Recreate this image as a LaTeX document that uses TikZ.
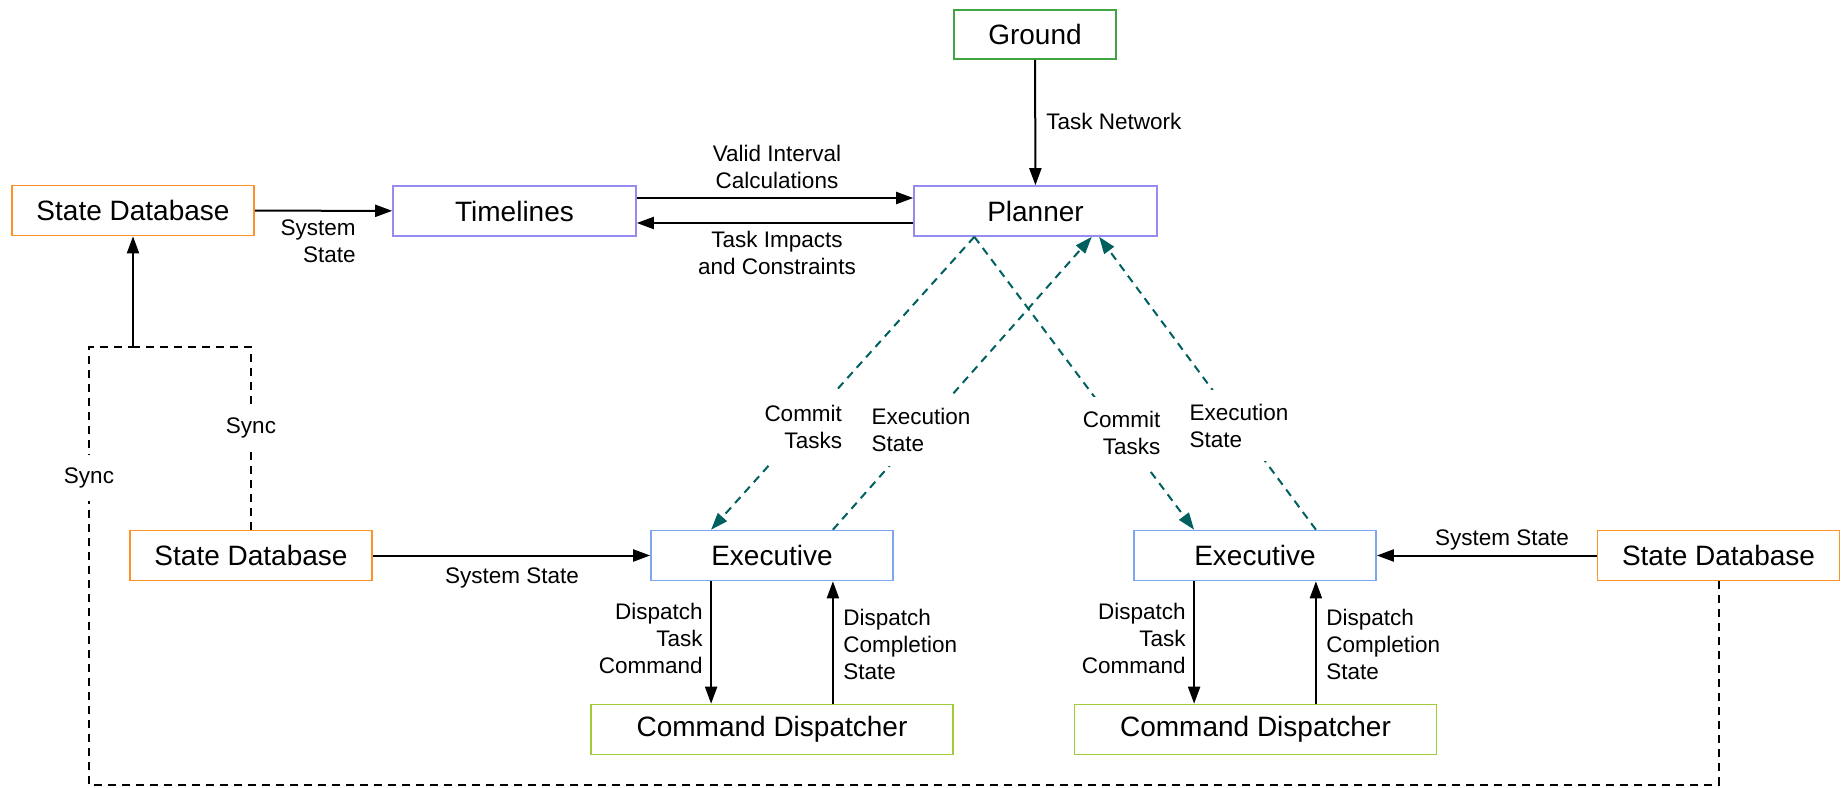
\documentclass[tikz,border=0pt]{standalone}
\usepackage{fontspec}
\setmainfont{Liberation Sans}
\usetikzlibrary{arrows.meta,calc}

\definecolor{groundc}{RGB}{64,164,64}
\definecolor{plannerc}{RGB}{150,140,240}
\definecolor{execc}{RGB}{126,166,240}
\definecolor{dispc}{RGB}{160,204,58}
\definecolor{dbc}{RGB}{255,145,40}
\definecolor{tealc}{RGB}{0,96,96}

\begin{document}
\begin{tikzpicture}[x=0.5pt,y=-0.5pt,
  box/.style={draw, line width=0.8pt, minimum width=121pt, minimum height=25pt,
    inner sep=0pt, font=\fontsize{14}{16}\selectfont},
  lbl/.style={font=\fontsize{11.25}{13.5}\selectfont, inner sep=1pt, text=black},
  arr/.style={line width=1pt, -{Triangle[length=8.5pt,width=6pt]}},
  sync/.style={line width=1pt, dash pattern=on 4pt off 3pt},
  flow/.style={tealc, line width=1pt, dash pattern=on 4pt off 3pt,
    -{Triangle[length=8.5pt,width=6pt]}},
  gap/.style={fill=white, inner xsep=3pt, inner ysep=7pt}
]
\useasboundingbox (0,0) rectangle (1847,787);

% boxes
\node[box, draw=groundc, minimum width=81pt, minimum height=24.5pt] (ground) at (1035,34.5) {Ground};
\node[box, draw=plannerc, minimum width=121.5pt] (planner) at (1035.5,211) {Planner};
\node[box, draw=plannerc, minimum width=121.5pt] (timelines) at (514.5,211) {Timelines};
\node[box, draw=dbc] (sd1) at (133,210.5) {State Database};
\node[box, draw=dbc] (sd2) at (251,555.5) {State Database};
\node[box, draw=dbc] (sd3) at (1718.5,555.5) {State Database};
\node[box, draw=execc] (exec1) at (772,555.5) {Executive};
\node[box, draw=execc] (exec2) at (1255,555.5) {Executive};
\node[box, draw=dispc, minimum width=181pt] (cd1) at (772,729.5) {Command Dispatcher};
\node[box, draw=dispc, minimum width=181pt] (cd2) at (1255.5,729.5) {Command Dispatcher};

% planning level
\draw[arr] (ground) -- (planner);
\node[lbl, anchor=west] (lnet) at (1044,121) {Task Network};
\draw[arr] (sd1) -- (timelines);
\node[lbl, anchor=east, align=right] (lsys1) at (358,241) {System\\State};
\draw[arr] ($(timelines.east)+(0,-13)$) -- ($(planner.west)+(0,-13)$);
\node[lbl, align=center] (lvalid) at (777,167) {Valid Interval\\Calculations};
\draw[arr] ($(planner.west)+(0,12)$) -- ($(timelines.east)+(0,12)$);
\node[lbl, align=center] (limp) at (777,253) {Task Impacts\\and Constraints};

% planner <-> executives
\draw[flow] ($(planner.south west)!0.25!(planner.south east)$) --
  node[pos=0.65, lbl, gap, align=right] (lc1) {Commit\\Tasks}
  ($(exec1.north west)!0.25!(exec1.north east)$);
\draw[flow] ($(exec1.north west)!0.75!(exec1.north east)$) --
  node[pos=0.34, lbl, gap, align=left] (le1) {Execution\\State}
  ($(planner.south west)!0.73!(planner.south east)$);
\draw[flow] ($(planner.south west)!0.25!(planner.south east)$) --
  node[pos=0.67, lbl, gap, align=right] (lc2) {Commit\\Tasks}
  ($(exec2.north west)!0.25!(exec2.north east)$);
\draw[flow] ($(exec2.north west)!0.75!(exec2.north east)$) --
  node[pos=0.355, lbl, gap, align=left] (le2) {Execution\\State}
  ($(planner.south west)!0.76!(planner.south east)$);

% state databases feeding executives
\draw[arr] (sd2) -- (exec1);
\node[lbl] (lsys2) at (512,578) {System State};
\draw[arr] (sd3) -- (exec2);
\node[lbl] (lsys3) at (1502,540) {System State};

% executive <-> dispatcher
\coordinate (e1d) at ($(exec1.south west)!0.25!(exec1.south east)$);
\coordinate (e1u) at ($(exec1.south west)!0.75!(exec1.south east)$);
\coordinate (e2d) at ($(exec2.south west)!0.25!(exec2.south east)$);
\coordinate (e2u) at ($(exec2.south west)!0.75!(exec2.south east)$);
\draw[arr] (e1d) -- (e1d |- cd1.north);
\draw[arr] (e1u |- cd1.north) -- (e1u);
\draw[arr] (e2d) -- (e2d |- cd2.north);
\draw[arr] (e2u |- cd2.north) -- (e2u);
\node[lbl, anchor=east, align=right] (ld1) at (705,638) {Dispatch\\Task\\Command};
\node[lbl, anchor=west, align=left] (lr1) at (841,644) {Dispatch\\Completion\\State};
\node[lbl, anchor=east, align=right] (ld2) at (1188,638) {Dispatch\\Task\\Command};
\node[lbl, anchor=west, align=left] (lr2) at (1324,644) {Dispatch\\Completion\\State};

% synchronisation of the state databases
\coordinate (junction) at (133,347);
\draw[sync] (sd2.north) |- (junction);
\draw[sync] (sd3.south) |- (89,785) -- (89,347) -- (junction);
\draw[arr] (junction) -- (sd1.south);
\node[lbl, fill=white, inner ysep=6.5pt] (lsync1) at (251,428) {Sync};
\node[lbl, fill=white, inner ysep=6.5pt] (lsync2) at (89,478) {Sync};
\end{tikzpicture}
\end{document}
